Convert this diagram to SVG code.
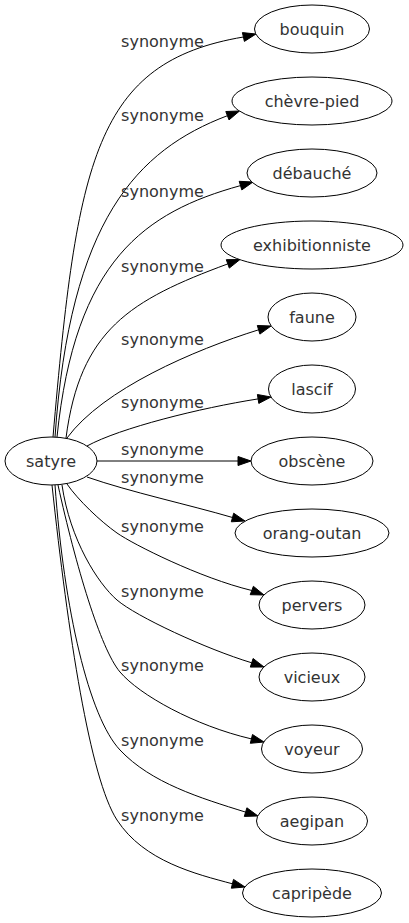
<svg xmlns="http://www.w3.org/2000/svg" width="409" height="923" viewBox="0 0 409 923">
<style>
.node ellipse{fill:#fff;stroke:#000;stroke-width:1}
.node text{font-family:"DejaVu Sans",sans-serif;font-size:16px;fill:#333;text-anchor:middle}
.edge path{fill:none;stroke:#000;stroke-width:1}
.edge polygon{fill:#000;stroke:#000;stroke-width:1}
.lbl{font-family:"DejaVu Sans",sans-serif;font-size:16px;fill:#333;text-anchor:middle}
</style>
<rect width="409" height="923" fill="#fff"/>
<g id="edges">
<g class="edge"><path d="M53,437 C77,160 95,62 243.4,37"/><polygon points="256,34 244.4,41.4 242.4,32.6"/><text class="lbl" x="162.5" y="47">synonyme</text></g>
<g class="edge"><path d="M55,437 C70,220 137,150 227.4,115.7"/><polygon points="239.5,111 229,119.9 225.8,111.5"/><text class="lbl" x="162.5" y="121">synonyme</text></g>
<g class="edge"><path d="M57,437 C75,260 145,212 240.5,185.6"/><polygon points="253,182 241.8,189.9 239.2,181.3"/><text class="lbl" x="162.5" y="197">synonyme</text></g>
<g class="edge"><path d="M66,438 C80,330 130,300 227.8,263.9"/><polygon points="240,259.5 229.3,268.1 226.3,259.7"/><text class="lbl" x="162.5" y="272">synonyme</text></g>
<g class="edge"><path d="M67,438 C103,389 194,350 258.6,329.8"/><polygon points="271,326 259.9,334.1 257.3,325.5"/><text class="lbl" x="162.5" y="345">synonyme</text></g>
<g class="edge"><path d="M87,446 C120,428 200,408 258.1,398.9"/><polygon points="271,397 258.8,403.4 257.4,394.5"/><text class="lbl" x="162.5" y="408">synonyme</text></g>
<g class="edge"><path d="M97,461 L238,461"/><polygon points="251,461 238,465.5 238,456.5"/><text class="lbl" x="162.5" y="455">synonyme</text></g>
<g class="edge"><path d="M87,477 C130,492 190,505 232.5,517.5"/><polygon points="245,521 231.3,521.8 233.7,513.2"/><text class="lbl" x="162.5" y="483">synonyme</text></g>
<g class="edge"><path d="M67,484 C78,500 100.6,521.5 117,533 S200,578 251.8,590.5"/><polygon points="264,595 250.2,594.7 253.4,586.3"/><text class="lbl" x="162.5" y="531.5">synonyme</text></g>
<g class="edge"><path d="M62,485 C70,540 98,583.6 117,600 S206,649 251.7,662.8"/><polygon points="264,667 250.3,667.1 253.1,658.5"/><text class="lbl" x="162.5" y="597">synonyme</text></g>
<g class="edge"><path d="M58,485 C75.6,565 100.5,649 120,672 S194.7,725.7 251.4,738.9"/><polygon points="264,742 250.3,743.3 252.5,734.5"/><text class="lbl" x="162.5" y="671">synonyme</text></g>
<g class="edge"><path d="M55,485 C64,610 89,717 120,750 S200.3,798 245.6,812.1"/><polygon points="258,816 244.3,816.4 246.9,807.8"/><text class="lbl" x="162.5" y="746">synonyme</text></g>
<g class="edge"><path d="M52,485 C68,634 90,778.5 117,820 S196,874 232.4,883.8"/><polygon points="245,887 231.3,888.2 233.5,879.4"/><text class="lbl" x="162.5" y="821">synonyme</text></g>
</g>
<g id="node-satyre" class="node"><ellipse cx="51" cy="461" rx="46" ry="24"/><text x="51" y="466.6">satyre</text></g>
<g id="node-bouquin" class="node"><ellipse cx="312" cy="29" rx="57.5" ry="24"/><text x="312" y="34.6">bouquin</text></g>
<g id="node-chevre-pied" class="node"><ellipse cx="312" cy="101" rx="80" ry="24"/><text x="312" y="106.6">chèvre-pied</text></g>
<g id="node-debauche" class="node"><ellipse cx="312" cy="173" rx="65" ry="24"/><text x="312" y="178.6">débauché</text></g>
<g id="node-exhibitionniste" class="node"><ellipse cx="312" cy="245" rx="91" ry="24"/><text x="312" y="250.6">exhibitionniste</text></g>
<g id="node-faune" class="node"><ellipse cx="312" cy="317" rx="44" ry="24"/><text x="312" y="322.6">faune</text></g>
<g id="node-lascif" class="node"><ellipse cx="312" cy="389" rx="43.5" ry="24"/><text x="312" y="394.6">lascif</text></g>
<g id="node-obscene" class="node"><ellipse cx="312" cy="461" rx="61" ry="24"/><text x="312" y="466.6">obscène</text></g>
<g id="node-orang-outan" class="node"><ellipse cx="312" cy="533" rx="77" ry="24"/><text x="312" y="538.6">orang-outan</text></g>
<g id="node-pervers" class="node"><ellipse cx="312" cy="605" rx="53" ry="24"/><text x="312" y="610.6">pervers</text></g>
<g id="node-vicieux" class="node"><ellipse cx="312" cy="677" rx="53" ry="24"/><text x="312" y="682.6">vicieux</text></g>
<g id="node-voyeur" class="node"><ellipse cx="312" cy="749" rx="50.5" ry="24"/><text x="312" y="754.6">voyeur</text></g>
<g id="node-aegipan" class="node"><ellipse cx="312" cy="821" rx="55.5" ry="24"/><text x="312" y="826.6">aegipan</text></g>
<g id="node-capripede" class="node"><ellipse cx="312" cy="893" rx="69.5" ry="24"/><text x="312" y="898.6">capripède</text></g>
</svg>
